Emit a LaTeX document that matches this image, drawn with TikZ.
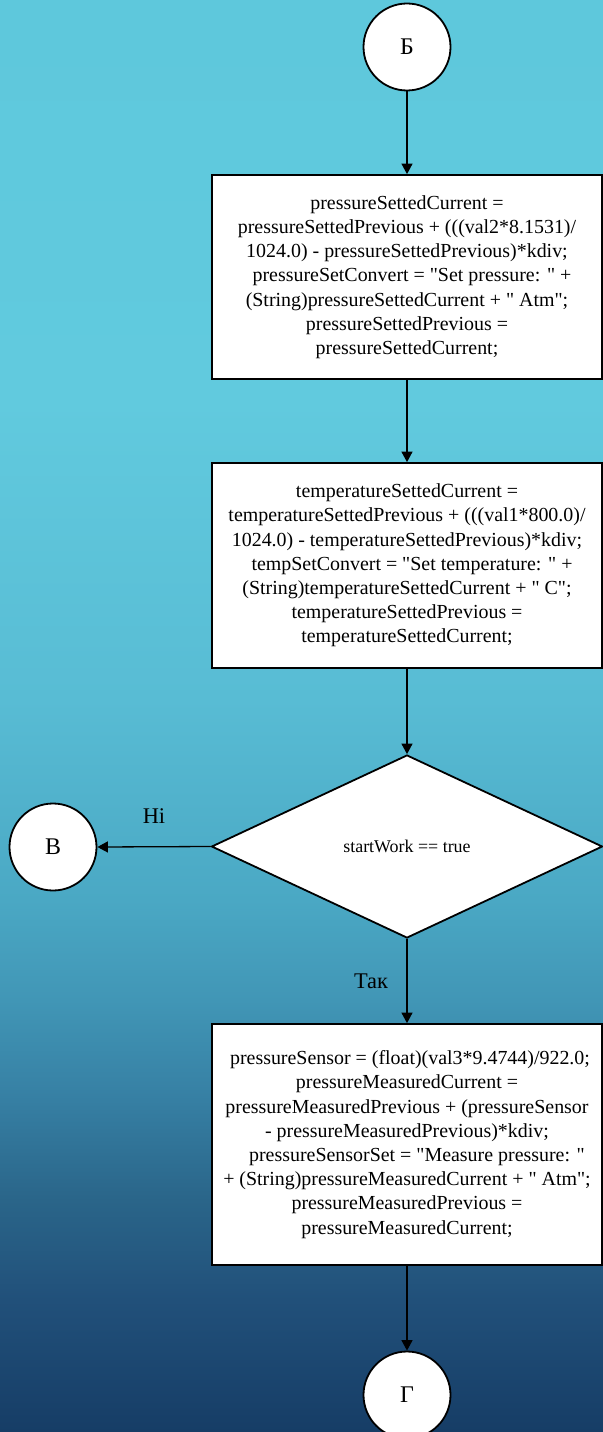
\documentclass[tikz,border=0pt]{standalone}
\usepackage{fontspec}
\setmainfont{Liberation Serif}[Ligatures=TeXOff]
\usetikzlibrary{arrows.meta,shapes.geometric}

% background colours, top to bottom
\definecolor{bgA}{RGB}{94,200,220}
\definecolor{bgB}{RGB}{97,202,222}
\definecolor{bgC}{RGB}{88,188,212}
\definecolor{bgD}{RGB}{74,168,196}
\definecolor{bgE}{RGB}{65,150,182}
\definecolor{bgF}{RGB}{54,127,163}
\definecolor{bgG}{RGB}{42,101,137}
\definecolor{bgH}{RGB}{33,80,122}
\definecolor{bgI}{RGB}{22,61,102}
\pgfdeclareverticalshading{bgshade}{100bp}{%
  color(0bp)=(bgI); color(25bp)=(bgI); color(29.61bp)=(bgH);
  color(33.10bp)=(bgG); color(36.59bp)=(bgF); color(40.08bp)=(bgE);
  color(43.57bp)=(bgD); color(50.56bp)=(bgC); color(61bp)=(bgB);
  color(75bp)=(bgA); color(100bp)=(bgA)}

\tikzset{
  connector/.style={circle, draw=black, fill=white, line width=1.8bp,
    minimum size=87bp, inner sep=0pt, font=\fontsize{24}{28}\selectfont},
  procbox/.style={rectangle, draw=black, fill=white, line width=1.8bp,
    minimum width=390bp, inner sep=0pt, align=center,
    font=\fontsize{20}{24.3}\selectfont},
  decision/.style={diamond, draw=black, fill=white, line width=1.8bp,
    minimum width=391bp, minimum height=183bp, inner sep=0pt,
    font=\fontsize{18}{22}\selectfont},
  flow/.style={line width=1.3bp, -{Triangle[length=10.5bp,width=11bp]}},
  branchlabel/.style={font=\fontsize{22.5}{26}\selectfont, inner sep=0pt}
}

\begin{document}
\begin{tikzpicture}[x=1bp, y=-1bp]
  \useasboundingbox (0,0) rectangle (603,1432);
  \clip (0,0) rectangle (603,1432);
  \shade[shading=bgshade] (0,0) rectangle (603,1432);

  % connectors and blocks
  \node[connector] (B) at (407,47) {Б};

  \node[procbox, minimum height=204bp] (p1) at (407,277) {%
    pressureSettedCurrent =\\
    pressureSettedPrevious + (((val2*8.1531)/\\
    1024.0) - pressureSettedPrevious)*kdiv;\\
    \hspace*{10bp}pressureSetConvert = "Set pressure: " +\\
    (String)pressureSettedCurrent + " Atm";\\
    pressureSettedPrevious =\\
    pressureSettedCurrent;};

  \node[procbox, minimum height=205bp] (p2) at (407,565.5) {%
    temperatureSettedCurrent =\\
    temperatureSettedPrevious + (((val1*800.0)/\\
    1024.0) - temperatureSettedPrevious)*kdiv;\\
    \hspace*{10bp}tempSetConvert = "Set temperature: " +\\
    (String)temperatureSettedCurrent + " C";\\
    temperatureSettedPrevious =\\
    temperatureSettedCurrent;};

  \node[decision] (d) at (407,846.5) {startWork == true};

  \node[connector] (V) at (53,847) {В};

  \node[procbox, minimum height=241bp] (p3) at (407,1144.5) {%
    \hspace*{6bp}pressureSensor = (float)(val3*9.4744)/922.0;\\
    pressureMeasuredCurrent =\\
    pressureMeasuredPrevious + (pressureSensor\\
    - pressureMeasuredPrevious)*kdiv;\\
    \hspace*{20bp}pressureSensorSet = "Measure pressure: "\\
    + (String)pressureMeasuredCurrent + " Atm";\\
    pressureMeasuredPrevious =\\
    pressureMeasuredCurrent;};

  \node[connector] (G) at (407,1395) {Г};

  % flow lines
  \draw[flow] (B) -- (p1);
  \draw[flow] (p1) -- (p2);
  \draw[flow] (p2) -- (d);
  \draw[flow] (d.west) -- (V.east)
    node[branchlabel, midway, yshift=31bp] {Ні};
  \draw[flow] (d.south) -- (p3.north)
    node[branchlabel, midway, xshift=-36bp] {Так};
  \draw[flow] (p3) -- (G);
\end{tikzpicture}
\end{document}
